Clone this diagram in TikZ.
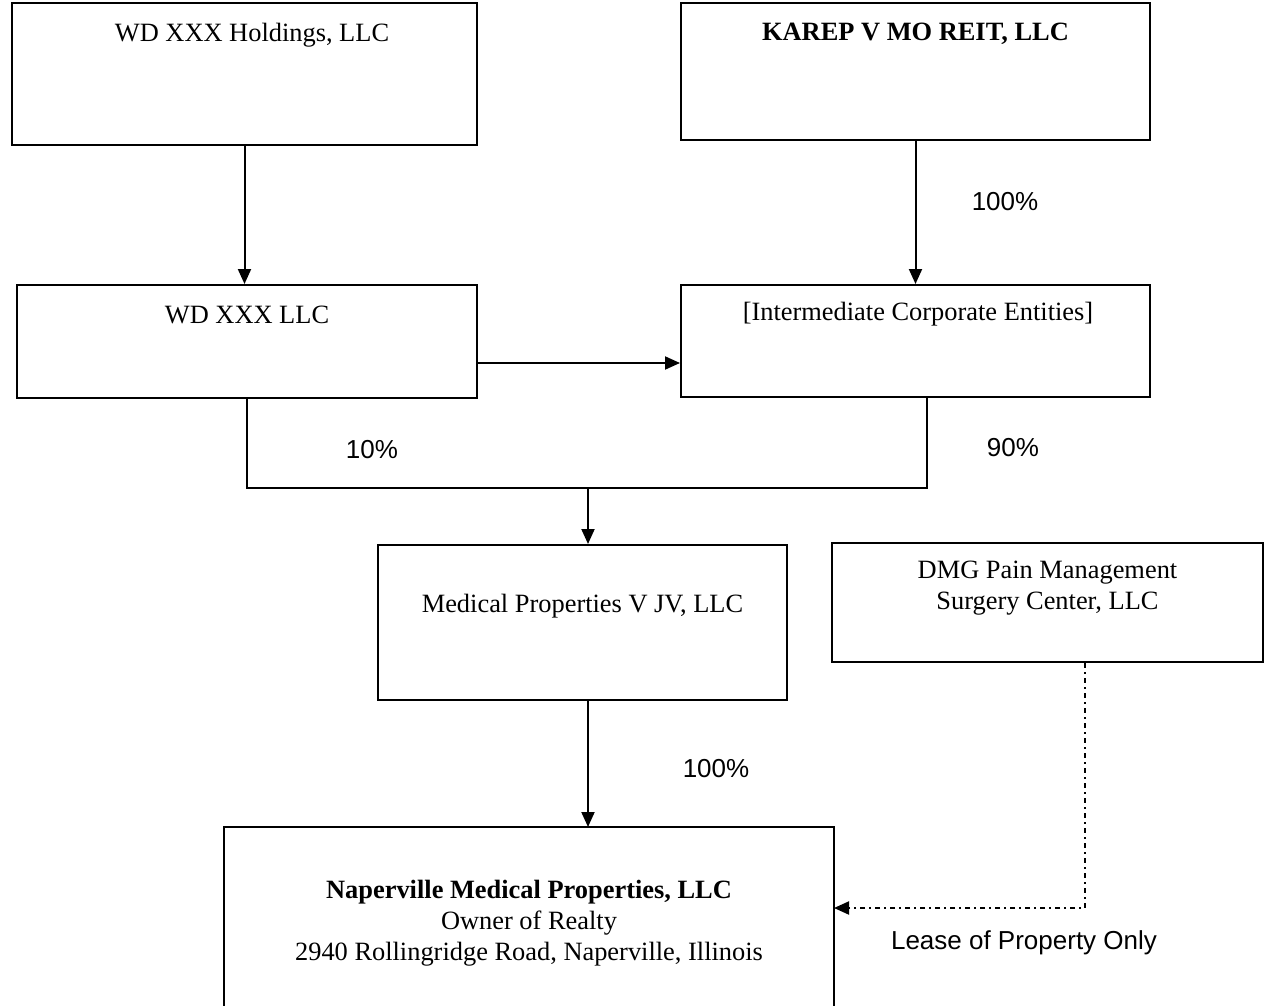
\documentclass[tikz,border=0pt]{standalone}
\usepackage{fontspec}
\setmainfont{Liberation Serif}
\setsansfont{Liberation Sans}
\usetikzlibrary{arrows.meta}

\tikzset{
  entity/.style={draw, line width=1pt, rectangle, inner sep=0pt},
  etext/.style={font=\fontsize{13.2}{15.5}\selectfont, align=center, inner sep=0pt},
  share/.style={font=\sffamily\fontsize{13}{15.5}\selectfont, inner sep=0pt},
  own/.style={line width=1pt, -{Triangle[length=7.5pt,width=6.5pt]}},
  lease/.style={line width=1pt, dash pattern=on 2.5pt off 2pt on 1pt off 2pt, -{Triangle[length=7.5pt,width=6.5pt]}}
}

\begin{document}
\begin{tikzpicture}[x=0.5pt,y=-0.5pt]
\useasboundingbox (0,0) rectangle (1265,1006);

% boxes
\node[entity, minimum width=232.5pt, minimum height=71pt] (hold) at (244.5,74) {};
\node[entity, minimum width=234.5pt, minimum height=68.5pt] (karep) at (915.5,72) {};
\node[entity, minimum width=230pt, minimum height=56.5pt] (wdx) at (247,341.5) {};
\node[entity, minimum width=234.5pt, minimum height=56pt] (inter) at (915.5,341) {};
\node[entity, minimum width=204.5pt, minimum height=77.5pt] (jv) at (582.5,622.5) {};
\node[entity, minimum width=215.5pt, minimum height=59.5pt] (dmg) at (1047.5,602.5) {};
\node[entity, draw=none, minimum width=304pt, minimum height=89pt] (nap) at (529,917) {};
% bottom of this one runs off the page
\draw[line width=1pt] (nap.south west) |- (nap.north east) -- (nap.south east);

% box texts
\node[etext] (holdt) at (252,35) {WD XXX Holdings, LLC};
\node[etext] (karept) at (915.5,34) {\textbf{KAREP V MO REIT, LLC}};
\node[etext] (wdxt) at (247,315) {WD XXX LLC};
\node[etext] (intert) at (918,314) {[Intermediate Corporate Entities]};
\node[etext] (jvt) at (582.5,606) {Medical Properties V JV, LLC};
\node[etext] (dmgt) at (1047.5,588) {DMG Pain Management\\Surgery Center, LLC};
\node[etext] (napt) at (529,923) {\textbf{Naperville Medical Properties, LLC}\\Owner of Realty\\2940 Rollingridge Road, Naperville, Illinois};

% helper points
\coordinate (h) at (477,363);
\coordinate (j) at (588,488);
\coordinate (jr) at (927,488);
\coordinate (lc) at (1085,908);

% ownership lines
\draw[own] (hold.south) -- (hold.south |- wdx.north);
\draw[own] (karep.south) -- (inter.north);
\draw[own] (h) -- (h -| inter.west);
\draw[line width=1pt] (wdx.south) |- (jr) -- (jr |- inter.south);
\draw[own] (j) -- (j |- jv.north);
\draw[own] (j |- jv.south) -- (j |- nap.north);
\draw[lease] (lc |- dmg.south) -- (lc) -- (lc -| nap.east);

% percentages
\node[share] (p1) at (1005,202) {100\%};
\node[share] (p2) at (372,450) {10\%};
\node[share] (p3) at (1013,448) {90\%};
\node[share] (p4) at (716,769) {100\%};
\node[share] (leaset) at (1024,943) {Lease of Property Only};

\end{tikzpicture}
\end{document}
